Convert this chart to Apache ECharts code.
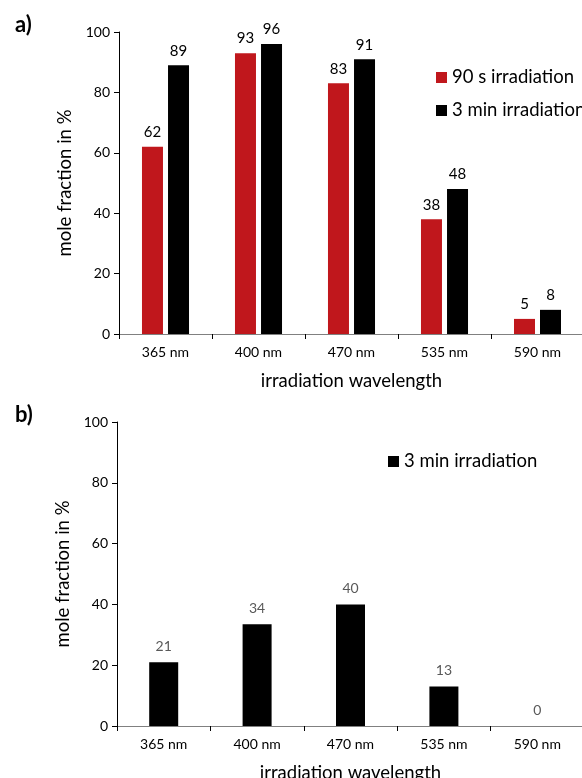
<!DOCTYPE html>
<html>
<head>
<meta charset="utf-8">
<script src="https://cdn.jsdelivr.net/npm/echarts@6/dist/echarts.min.js"></script>
<style>
  html, body { margin: 0; padding: 0; background: #fff; }
  #main { width: 582px; height: 778px; }
</style>
</head>
<body>
<div id="main"></div>
<script>
// data
const wavelengths = ['365 nm', '400 nm', '470 nm', '535 nm', '590 nm'];
const irr90s = [62, 93, 83, 38, 5];
const irr3minA = [89, 96, 91, 48, 8];
const irr3minB = [21, 33.5, 40, 13, 0];
const yTicks = [0, 20, 40, 60, 80, 100];

const FONT = 'Lato, "Open Sans", sans-serif';
const RED = '#c0171c';

function valueAxis(gridIndex, gap) {
  return {
    type: 'value', gridIndex: gridIndex,
    min: yTicks[0], max: yTicks[yTicks.length - 1], interval: 20,
    name: 'mole fraction in %', nameLocation: 'middle', nameGap: gap,
    nameTextStyle: { fontFamily: FONT, fontSize: 18.5, color: '#000' },
    axisLine: { show: true, lineStyle: { color: '#000', width: 1 } },
    axisTick: { show: true, length: 5, lineStyle: { color: '#000' } },
    axisLabel: { fontFamily: FONT, fontSize: 14, color: '#000', margin: 9 },
    splitLine: { show: false }
  };
}

function catAxis(gridIndex) {
  return {
    type: 'category', gridIndex: gridIndex, data: wavelengths,
    name: 'irradiation wavelength', nameLocation: 'middle', nameGap: 38,
    nameTextStyle: { fontFamily: FONT, fontSize: 18.5, color: '#000' },
    axisLine: { lineStyle: { color: '#808080', width: 1 } },
    axisTick: { show: true, length: 5, alignWithLabel: false, lineStyle: { color: '#000' } },
    axisLabel: { fontFamily: FONT, fontSize: 14, color: '#000', margin: 11 }
  };
}

let chart = echarts.init(document.getElementById('main'), null, { renderer: 'canvas' });

let option = {
  backgroundColor: '#fff',
  animation: false,
  title: [
    { text: 'a)', left: 10, top: 9, textStyle: { fontFamily: FONT, fontSize: 22, fontWeight: 'bold', color: '#000' } },
    { text: 'b)', left: 10, top: 399, textStyle: { fontFamily: FONT, fontSize: 22, fontWeight: 'bold', color: '#000' } }
  ],
  grid: [
    { left: 119, top: 32, width: 465, height: 302, containLabel: false, outerBoundsMode: 'none' },
    { left: 117, top: 422, width: 467, height: 304, containLabel: false, outerBoundsMode: 'none' }
  ],
  legend: [
    {
      data: ['90 s irradiation', '3 min irradiation'],
      orient: 'vertical', left: 431, top: 63, itemWidth: 11, itemHeight: 11, itemGap: 14,
      icon: 'rect',
      textStyle: { fontFamily: FONT, fontSize: 18.5, color: '#000' }
    },
    {
      data: ['3 min irradiation '],
      orient: 'vertical', left: 383, top: 447, itemWidth: 11, itemHeight: 11,
      icon: 'rect',
      textStyle: { fontFamily: FONT, fontSize: 18.5, color: '#000' }
    }
  ],
  xAxis: [catAxis(0), catAxis(1)],
  yAxis: [valueAxis(0, 44), valueAxis(1, 44)],
  series: [
    {
      name: '90 s irradiation', type: 'bar', xAxisIndex: 0, yAxisIndex: 0,
      data: irr90s, barWidth: 21, barGap: '24%',
      itemStyle: { color: RED },
      label: { show: true, position: 'top', distance: 7, fontFamily: FONT, fontSize: 15, color: '#000' }
    },
    {
      name: '3 min irradiation', type: 'bar', xAxisIndex: 0, yAxisIndex: 0,
      data: irr3minA, barWidth: 21,
      itemStyle: { color: '#000' },
      label: { show: true, position: 'top', distance: 7, fontFamily: FONT, fontSize: 15, color: '#000' }
    },
    {
      name: '3 min irradiation ', type: 'bar', xAxisIndex: 1, yAxisIndex: 1,
      data: irr3minB, barWidth: 29,
      itemStyle: { color: '#000' },
      label: {
        show: true, position: 'top', distance: 9, fontFamily: FONT, fontSize: 14, color: '#595959',
        formatter: (p) => Math.round(p.value)
      }
    }
  ]
};

chart.setOption(option);
</script>
</body>
</html>
